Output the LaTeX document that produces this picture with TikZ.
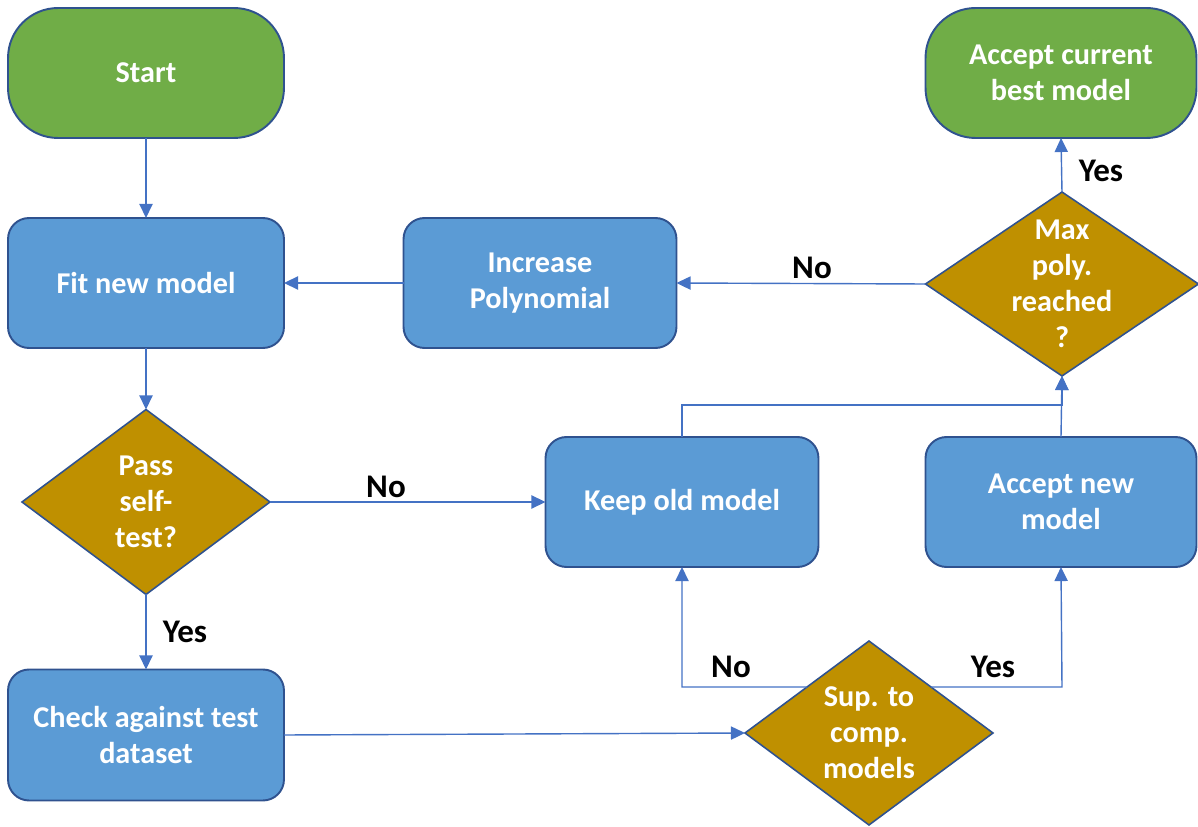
\documentclass[tikz,border=0pt]{standalone}
\usepackage{fontspec}
\setmainfont{Carlito}
\usetikzlibrary{shapes.geometric,arrows.meta}
\definecolor{fgreen}{HTML}{70AD47}
\definecolor{fblue}{HTML}{5B9BD5}
\definecolor{fgold}{HTML}{BF9000}
\definecolor{fborder}{HTML}{2F528F}
\definecolor{fline}{HTML}{4472C4}
\tikzset{
  txt/.style={font=\fontsize{17.2}{20.6}\selectfont\bfseries, text=white, align=center},
  termbox/.style={draw=fborder, line width=1.1pt, fill=fgreen, rounded corners=1cm, inner sep=0pt, outer sep=0pt, txt},
  procbox/.style={draw=fborder, line width=1.1pt, fill=fblue, rounded corners=0.42cm, inner sep=0pt, outer sep=0pt, txt},
  decbox/.style={diamond, draw=fborder, line width=0.9pt, fill=fgold, inner sep=0pt, outer sep=0pt},
  conn/.style={draw=fline, line width=0.8pt, -{Triangle[length=8pt,width=7.5pt]}},
  lbl/.style={font=\fontsize{18.8}{22}\selectfont\bfseries, text=black, inner sep=0pt}
}
\begin{document}
\begin{tikzpicture}[x=0.02cm, y=-0.02cm]
\useasboundingbox (0,0) rectangle (1198,827);
% terminals
\node[termbox, minimum width=5.52cm, minimum height=2.6cm] (start) at (146,73) {Start};
\node[termbox, minimum width=5.42cm, minimum height=2.6cm] (acc) at (1061,73) {Accept current\\best model};
% processes
\node[procbox, minimum width=5.52cm, minimum height=2.6cm] (fit) at (146,283) {Fit new model};
\node[procbox, minimum width=5.46cm, minimum height=2.6cm] (inc) at (540,283) {Increase\\Polynomial};
\node[procbox, minimum width=5.46cm, minimum height=2.6cm] (keep) at (682,502) {Keep old model};
\node[procbox, minimum width=5.42cm, minimum height=2.6cm] (accnew) at (1061,502) {Accept new\\model};
\node[procbox, minimum width=5.52cm, minimum height=2.62cm] (check) at (146,735) {Check against test\\dataset};
% decisions
\node[decbox, minimum width=5.46cm, minimum height=3.68cm, label={[txt]center:Max\\poly.\\reached\\?}] (maxp) at (1062,284) {};
\node[decbox, minimum width=4.96cm, minimum height=3.7cm, label={[txt]center:Pass\\self-\\test?}] (pass) at (146,502) {};
\node[decbox, minimum width=4.96cm, minimum height=3.68cm, label={[txt]center:Sup. to\\comp.\\models}] (sup) at (869,733) {};
% junctions
\coordinate (jtop) at (682,405);
\coordinate (jno) at (682,687);
\coordinate (jyes) at (1062,687);
% connectors
\draw[conn] (start.south) -- (fit.north);
\draw[conn] (inc.west) -- (fit.east);
\draw[conn] (maxp.west) -- (inc.east);
\draw[conn] (maxp.north) -- (acc.south);
\draw[conn] (fit.south) -- (pass.north);
\draw[conn] (pass.east) -- (keep.west);
\draw[conn] (pass.south) -- (check.north);
\draw[conn] (check.east) -- (sup.west);
\draw[conn] (sup.north west) -- (jno) -- (keep.south);
\draw[conn] (sup.north east) -- (jyes) -- (accnew.south);
\draw[conn] (keep.north) -- (jtop) -| (maxp.south);
\draw[conn] (accnew.north) -- (maxp.south);
% labels
\node[lbl] (lno1) at (812,268) {No};
\node[lbl] (lyes1) at (1101,171) {Yes};
\node[lbl] (lno2) at (386,487) {No};
\node[lbl] (lyes2) at (185,632) {Yes};
\node[lbl] (lno3) at (731,667) {No};
\node[lbl] (lyes3) at (993,667) {Yes};
\end{tikzpicture}
\end{document}
